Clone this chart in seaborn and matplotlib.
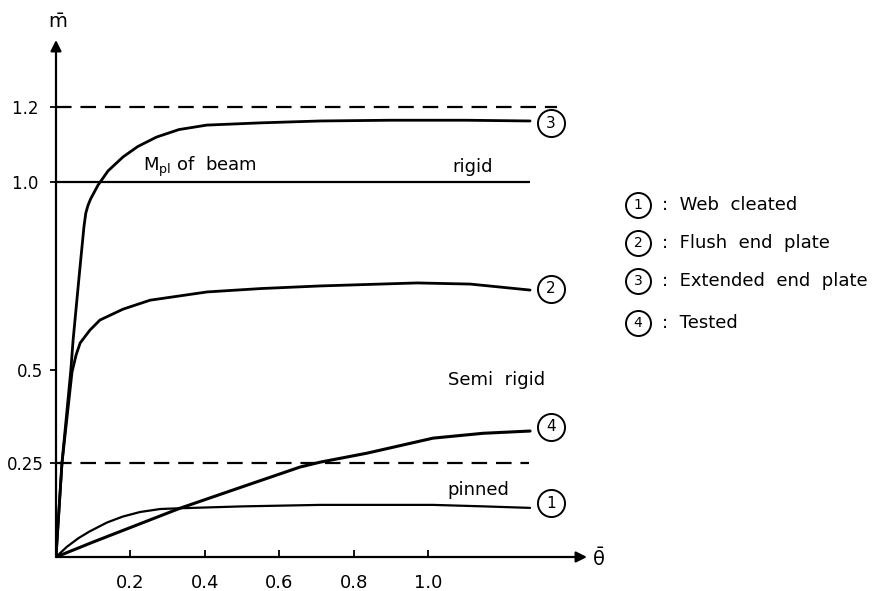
import matplotlib
matplotlib.use("Agg")
import matplotlib.pyplot as plt
import seaborn as sns
import pandas as pd

# ---- data ----
# curve 3 : extended end plate
c3_x = [0.0, 0.016, 0.040, 0.046, 0.062, 0.075, 0.080, 0.086, 0.093, 0.113, 0.140,
        0.180, 0.220, 0.270, 0.330, 0.405, 0.550, 0.710, 0.900, 1.100, 1.274]
c3_y = [0.0, 0.250, 0.500, 0.579, 0.747, 0.880, 0.917, 0.938, 0.955, 0.992, 1.030,
        1.067, 1.095, 1.120, 1.140, 1.152, 1.158, 1.163, 1.165, 1.165, 1.163]
# curve 2 : flush end plate
c2_x = [0.0, 0.016, 0.043, 0.054, 0.065, 0.091, 0.118, 0.180, 0.253, 0.406,
        0.550, 0.710, 0.970, 1.113, 1.274]
c2_y = [0.0, 0.250, 0.493, 0.539, 0.571, 0.605, 0.632, 0.661, 0.685, 0.707,
        0.716, 0.723, 0.731, 0.728, 0.712]
# curve 4 : tested
c4_x = [0.0, 0.100, 0.333, 0.500, 0.656, 0.710, 0.836, 1.013, 1.148, 1.274]
c4_y = [0.0, 0.040, 0.130, 0.187, 0.240, 0.253, 0.277, 0.317, 0.330, 0.336]
# curve 1 : web cleated
c1_x = [0.0, 0.029, 0.060, 0.090, 0.137, 0.180, 0.226, 0.280, 0.333, 0.500,
        0.710, 1.013, 1.150, 1.274]
c1_y = [0.0, 0.027, 0.050, 0.068, 0.092, 0.108, 0.120, 0.128, 0.130, 0.135,
        0.139, 0.139, 0.135, 0.131]

ref_levels = [1.2, 1.0, 0.25]          # dashed, solid, dashed
ref_ends = [1.347, 1.274, 1.272]

x_ticks = [0.2, 0.4, 0.6, 0.8, 1.0]
x_labels = ["0.2", "0.4", "0.6", "0.8", "1.0"]
y_ticks = [0.25, 0.5, 1.0, 1.2]
y_labels = ["0.25", "0.5", "1.0 ", "1.2 "]

curve_ids = ["3", "2", "4", "1"]
legend_ids = ["1", "2", "3", "4"]
legend_names = ["Web  cleated", "Flush  end  plate", "Extended  end  plate", "Tested"]

# ---- figure ----
sns.set_theme(style="white")
plt.rcParams["font.family"] = ["DejaVu Sans"]
plt.rcParams["text.color"] = "black"
fig = plt.figure(figsize=(8.86, 5.91), dpi=100)
ax = fig.add_axes([56 / 886, 34 / 591, 531 / 886, 517 / 591])
XMAX, YMAX = 1.427, 1.379
ax.set_xlim(0, XMAX)
ax.set_ylim(0, YMAX)
for s in ax.spines.values():
    s.set_visible(False)

curves = [(c3_x, c3_y, 2.0), (c2_x, c2_y, 2.0), (c4_x, c4_y, 2.2), (c1_x, c1_y, 1.6)]
for cx, cy, lw in curves:
    df = pd.DataFrame({"x": cx, "y": cy})
    sns.lineplot(data=df, x="x", y="y", ax=ax, sort=False, estimator=None,
                 color="black", linewidth=lw)

# reference levels
ax.hlines(ref_levels[0], 0, ref_ends[0], colors="black", lw=1.6, linestyles=(0, (7, 4)))
ax.hlines(ref_levels[1], 0, ref_ends[1], colors="black", lw=1.6)
ax.hlines(ref_levels[2], 0, ref_ends[2], colors="black", lw=1.6, linestyles=(0, (7, 4)))

# axes with arrows
arrow = dict(arrowstyle="-|>", lw=1.6, color="black", mutation_scale=16, shrinkA=0, shrinkB=0)
ax.annotate("", xy=(XMAX, 0), xytext=(0, 0), arrowprops=arrow, annotation_clip=False)
ax.annotate("", xy=(0, YMAX), xytext=(0, 0), arrowprops=arrow, annotation_clip=False)
ax.text(0.005, 1.427, r"$\bar{\mathrm{m}}$", fontsize=14, ha="center", va="center")
ax.text(1.457, -0.005, r"$\bar{\mathrm{\theta}}$", fontsize=14, ha="center", va="center")

ax.set_xticks(x_ticks)
ax.set_xticklabels(x_labels)
ax.set_yticks(y_ticks)
ax.set_yticklabels(y_labels)
ax.tick_params(axis="x", direction="in", length=5, width=1.3, pad=12, labelsize=13,
               bottom=True, colors="black")
ax.tick_params(axis="y", direction="out", length=4, width=1.3, pad=5, labelsize=12,
               left=True, colors="black")
ax.set_xlabel("")
ax.set_ylabel("")

# circled curve numbers
end_x = 1.330
end_y = [1.157, 0.715, 0.347, 0.144]
ax.scatter([end_x] * 4, end_y, s=380, facecolor="white", edgecolor="black",
           linewidth=1.4, clip_on=False, zorder=5)
for cid, ey in zip(curve_ids, end_y):
    ax.text(end_x, ey, cid, fontsize=11, ha="center", va="center", zorder=6)

# annotations
ax.text(0.234, 1.040, r"M$_{\mathrm{pl}}$ of  beam", fontsize=13, ha="left", va="center")
ax.text(1.065, 1.040, "rigid", fontsize=13, ha="left", va="center")
ax.text(1.054, 0.472, "Semi  rigid", fontsize=13, ha="left", va="center")
ax.text(1.052, 0.179, "pinned", fontsize=13, ha="left", va="center")

# legend on the right (figure coordinates)
leg_px_y = [205, 243, 281, 323]
for lid, name, py in zip(legend_ids, legend_names, leg_px_y):
    fy = 1 - py / 591
    fig.add_artist(plt.Line2D([638 / 886], [fy], marker="o", markersize=18,
                              markerfacecolor="white", markeredgecolor="black",
                              markeredgewidth=1.4, linestyle="none",
                              transform=fig.transFigure))
    fig.text(638 / 886, fy, lid, fontsize=10, ha="center", va="center")
    fig.text(662 / 886, fy, ":  " + name, fontsize=13, ha="left", va="center")

fig.savefig("out.png", dpi=100, facecolor="white")
